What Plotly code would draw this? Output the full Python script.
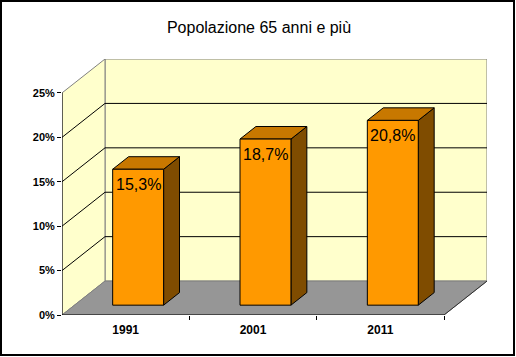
import plotly.graph_objects as go

categories = ["1991", "2001", "2011"]
values = [15.3, 18.7, 20.8]
labels = ["15,3%", "18,7%", "20,8%"]
y_ticks = [0, 5, 10, 15, 20, 25]
y_ticktext = ["0%", "5%", "10%", "15%", "20%", "25%"]
title_text = "Popolazione 65 anni e più"

# 3D projection parameters (in axis units)
DX = 0.3377   # wall depth along x (category units)
DY = 3.82     # wall depth along y (percent units)
YMAX = 25
F0, F1 = 0.29, 0.66   # bar depth start / end fraction
BW = 0.40             # bar width (category units)

WALL = "#FFFFCC"
FLOOR = "#969696"
EDGE = "#808080"
FRONT = "#FF9900"
TOP = "#C87800"
SIDE = "#7F4C00"

n = len(categories)
x0, x1 = -0.5, n - 0.5

fig = go.Figure()

def poly(xs, ys, fill, line="black", width=1):
    fig.add_trace(go.Scatter(x=xs + [xs[0]], y=ys + [ys[0]], mode="lines",
                             fill="toself", fillcolor=fill,
                             line=dict(color=line, width=width),
                             hoverinfo="skip", showlegend=False))

def seg(xs, ys, color="black", width=1):
    fig.add_trace(go.Scatter(x=xs, y=ys, mode="lines",
                             line=dict(color=color, width=width),
                             hoverinfo="skip", showlegend=False))

# back wall
poly([x0 + DX, x1 + DX, x1 + DX, x0 + DX], [DY, DY, YMAX + DY, YMAX + DY], WALL, EDGE)
# left wall
poly([x0, x0 + DX, x0 + DX, x0], [0, DY, YMAX + DY, YMAX], WALL, EDGE)
# floor
poly([x0, x1, x1 + DX, x0 + DX], [0, 0, DY, DY], FLOOR, EDGE)
seg([x1, x1 + DX], [0, DY], "#303030")

# gridlines
for v in y_ticks[1:-1]:
    seg([x0, x0 + DX, x1 + DX], [v, v + DY, v + DY])

# bars
for i, v in enumerate(values):
    fx0 = i - BW / 2 + F0 * DX
    fx1 = i + BW / 2 + F0 * DX
    fy = F0 * DY
    bx = (F1 - F0) * DX
    by = (F1 - F0) * DY
    # side
    poly([fx1, fx1 + bx, fx1 + bx, fx1], [fy, fy + by, fy + v + by, fy + v], SIDE)
    # top
    poly([fx0, fx1, fx1 + bx, fx0 + bx], [fy + v, fy + v, fy + v + by, fy + v + by], TOP)
    # front
    poly([fx0, fx1, fx1, fx0], [fy, fy, fy + v, fy + v], FRONT)
    fig.add_annotation(x=(fx0 + fx1) / 2, y=fy + v, text=labels[i], showarrow=False,
                       yanchor="top", xanchor="center", yshift=-5,
                       font=dict(family="Liberation Sans, Arial", size=16, color="black"))

# front axes lines
seg([x0, x1], [0, 0])
seg([x0, x0], [0, YMAX])

# outer border (paper coords relative to plot area 62..487 x 59..315)
L, R, T, B = 62, 29, 59, 42
W, H = 516, 357
pw, ph = W - L - R, H - T - B
def px(p):
    return (p - L) / pw
def py(q):
    return (H - B - q) / ph
fig.add_shape(type="rect", xref="paper", yref="paper",
              x0=px(1), x1=px(514), y0=py(355), y1=py(1),
              line=dict(color="black", width=2), fillcolor="rgba(0,0,0,0)", layer="above")

fig.update_layout(
    width=W, height=H,
    margin=dict(l=L, r=R, t=T, b=B, autoexpand=False),
    paper_bgcolor="white", plot_bgcolor="white",
    title=dict(text=title_text, x=259 / W, xanchor="center", y=1 - 27 / H, yanchor="middle",
               font=dict(family="Liberation Sans, Arial", size=16, color="black")),
    showlegend=False,
    xaxis=dict(range=[x0, x1 + DX], showgrid=False, zeroline=False, showline=False,
               automargin=False,
               tickmode="array", tickvals=list(range(n)), ticktext=categories,
               ticks="", ticklabelstandoff=6,
               tickfont=dict(family="Liberation Sans, Arial", size=12, color="black", weight="bold"),
               minor=dict(tickmode="array", tickvals=[i + 0.5 for i in range(n)],
                          ticks="outside", ticklen=4, tickcolor="black", showgrid=False),
               fixedrange=True),
    yaxis=dict(range=[0, YMAX + DY], showgrid=False, zeroline=False, showline=False,
               automargin=False,
               tickmode="array", tickvals=y_ticks, ticktext=y_ticktext,
               ticks="outside", ticklen=4, tickcolor="black",
               tickfont=dict(family="Liberation Sans, Arial", size=11, color="black", weight="bold"),
               fixedrange=True),
)

fig.write_html("out.html", config={"displayModeBar": False},
               post_script="document.body.style.margin='0';")
